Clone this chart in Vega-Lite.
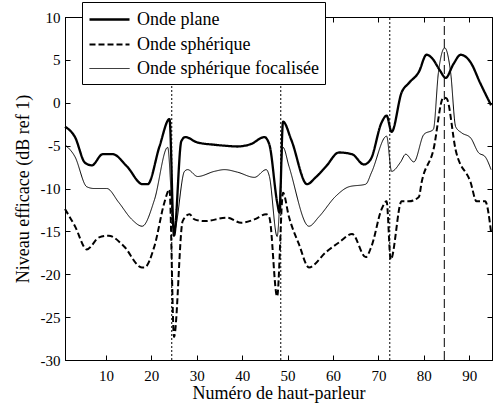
{
  "$schema": "https://vega.github.io/schema/vega-lite/v6.json",
  "width": 427,
  "height": 343,
  "autosize": "none",
  "padding": {"left": 65, "top": 17, "right": 1, "bottom": 46},
  "background": "white",
  "config": {
    "view": {"stroke": "black", "strokeWidth": 1},
    "font": "Liberation Serif",
    "axis": {
      "grid": false,
      "domainColor": "black",
      "tickColor": "black",
      "labelColor": "black",
      "titleColor": "black",
      "labelFont": "Liberation Serif",
      "titleFont": "Liberation Serif",
      "labelFontSize": 15,
      "titleFontSize": 18,
      "titleFontWeight": "normal",
      "tickSize": -5
    },
    "legend": {
      "labelFont": "Liberation Serif",
      "labelFontSize": 18,
      "labelColor": "black",
      "labelLimit": 0
    }
  },
  "datasets": {
    "curves": [
      {"n": 1, "v": -2.8, "s": "Onde plane"},
      {"n": 3.2, "v": -4.0, "s": "Onde plane"},
      {"n": 5.4, "v": -7.0, "s": "Onde plane"},
      {"n": 6.9, "v": -7.3, "s": "Onde plane"},
      {"n": 9.3, "v": -6.0, "s": "Onde plane"},
      {"n": 11.5, "v": -6.0, "s": "Onde plane"},
      {"n": 14.6, "v": -7.4, "s": "Onde plane"},
      {"n": 18.1, "v": -9.5, "s": "Onde plane"},
      {"n": 19.2, "v": -9.5, "s": "Onde plane"},
      {"n": 21.8, "v": -5.1, "s": "Onde plane"},
      {"n": 24, "v": -1.9, "s": "Onde plane"},
      {"n": 25, "v": -15.5, "s": "Onde plane"},
      {"n": 26.6, "v": -4.5, "s": "Onde plane"},
      {"n": 27.5, "v": -4.0, "s": "Onde plane"},
      {"n": 30, "v": -4.6, "s": "Onde plane"},
      {"n": 33.9, "v": -4.9, "s": "Onde plane"},
      {"n": 36, "v": -5.0, "s": "Onde plane"},
      {"n": 39, "v": -5.1, "s": "Onde plane"},
      {"n": 42, "v": -4.8, "s": "Onde plane"},
      {"n": 44.9, "v": -4.0, "s": "Onde plane"},
      {"n": 46, "v": -4.9, "s": "Onde plane"},
      {"n": 47.7, "v": -11.6, "s": "Onde plane"},
      {"n": 48.2, "v": -12.8, "s": "Onde plane"},
      {"n": 49, "v": -2.2, "s": "Onde plane"},
      {"n": 50.8, "v": -4.3, "s": "Onde plane"},
      {"n": 54.3, "v": -9.5, "s": "Onde plane"},
      {"n": 56, "v": -8.8, "s": "Onde plane"},
      {"n": 58.5, "v": -7.4, "s": "Onde plane"},
      {"n": 61.3, "v": -5.8, "s": "Onde plane"},
      {"n": 64.2, "v": -6.0, "s": "Onde plane"},
      {"n": 66.8, "v": -7.2, "s": "Onde plane"},
      {"n": 68.3, "v": -6.6, "s": "Onde plane"},
      {"n": 70.7, "v": -2.3, "s": "Onde plane"},
      {"n": 71.8, "v": -1.5, "s": "Onde plane"},
      {"n": 72.9, "v": -3.4, "s": "Onde plane"},
      {"n": 75.1, "v": 1.2, "s": "Onde plane"},
      {"n": 76.7, "v": 2.3, "s": "Onde plane"},
      {"n": 78.9, "v": 3.6, "s": "Onde plane"},
      {"n": 80.6, "v": 5.6, "s": "Onde plane"},
      {"n": 81.8, "v": 5.2, "s": "Onde plane"},
      {"n": 83.5, "v": 3.8, "s": "Onde plane"},
      {"n": 84.8, "v": 2.9, "s": "Onde plane"},
      {"n": 86.5, "v": 4.5, "s": "Onde plane"},
      {"n": 88.1, "v": 5.6, "s": "Onde plane"},
      {"n": 90.3, "v": 4.7, "s": "Onde plane"},
      {"n": 92.4, "v": 2.3, "s": "Onde plane"},
      {"n": 94.8, "v": -0.3, "s": "Onde plane"},

      {"n": 1, "v": -12.4, "s": "Onde sphérique"},
      {"n": 3.2, "v": -14.4, "s": "Onde sphérique"},
      {"n": 5.8, "v": -17.1, "s": "Onde sphérique"},
      {"n": 8.5, "v": -15.7, "s": "Onde sphérique"},
      {"n": 10.6, "v": -15.5, "s": "Onde sphérique"},
      {"n": 13.9, "v": -16.7, "s": "Onde sphérique"},
      {"n": 17.9, "v": -19.2, "s": "Onde sphérique"},
      {"n": 18.5, "v": -19.2, "s": "Onde sphérique"},
      {"n": 20.7, "v": -16.7, "s": "Onde sphérique"},
      {"n": 22.9, "v": -11.6, "s": "Onde sphérique"},
      {"n": 24, "v": -10.1, "s": "Onde sphérique"},
      {"n": 25, "v": -27.3, "s": "Onde sphérique"},
      {"n": 26.9, "v": -13.8, "s": "Onde sphérique"},
      {"n": 28.4, "v": -13.0, "s": "Onde sphérique"},
      {"n": 29.5, "v": -13.6, "s": "Onde sphérique"},
      {"n": 31.7, "v": -13.8, "s": "Onde sphérique"},
      {"n": 36.7, "v": -13.4, "s": "Onde sphérique"},
      {"n": 39.8, "v": -14.0, "s": "Onde sphérique"},
      {"n": 42.7, "v": -13.6, "s": "Onde sphérique"},
      {"n": 45.3, "v": -13.0, "s": "Onde sphérique"},
      {"n": 46, "v": -13.4, "s": "Onde sphérique"},
      {"n": 47.7, "v": -22.6, "s": "Onde sphérique"},
      {"n": 49, "v": -10.5, "s": "Onde sphérique"},
      {"n": 50.3, "v": -13.3, "s": "Onde sphérique"},
      {"n": 52.5, "v": -16.5, "s": "Onde sphérique"},
      {"n": 54.7, "v": -19.2, "s": "Onde sphérique"},
      {"n": 58.5, "v": -17.4, "s": "Onde sphérique"},
      {"n": 61.3, "v": -16.3, "s": "Onde sphérique"},
      {"n": 64.2, "v": -15.3, "s": "Onde sphérique"},
      {"n": 67.2, "v": -18.0, "s": "Onde sphérique"},
      {"n": 68.5, "v": -16.7, "s": "Onde sphérique"},
      {"n": 70.7, "v": -12.4, "s": "Onde sphérique"},
      {"n": 71.8, "v": -11.5, "s": "Onde sphérique"},
      {"n": 72.7, "v": -18.3, "s": "Onde sphérique"},
      {"n": 75.1, "v": -11.5, "s": "Onde sphérique"},
      {"n": 76.7, "v": -11.5, "s": "Onde sphérique"},
      {"n": 78.9, "v": -11.0, "s": "Onde sphérique"},
      {"n": 79.5, "v": -9.3, "s": "Onde sphérique"},
      {"n": 82.1, "v": -5.5, "s": "Onde sphérique"},
      {"n": 84.3, "v": 0.6, "s": "Onde sphérique"},
      {"n": 85, "v": 0.5, "s": "Onde sphérique"},
      {"n": 87, "v": -5.5, "s": "Onde sphérique"},
      {"n": 90.3, "v": -9.3, "s": "Onde sphérique"},
      {"n": 91.6, "v": -11.5, "s": "Onde sphérique"},
      {"n": 93.5, "v": -11.5, "s": "Onde sphérique"},
      {"n": 94.8, "v": -15.1, "s": "Onde sphérique"},

      {"n": 1, "v": -4.9, "s": "Onde sphérique focalisée"},
      {"n": 3.2, "v": -6.3, "s": "Onde sphérique focalisée"},
      {"n": 5.8, "v": -9.8, "s": "Onde sphérique focalisée"},
      {"n": 7.4, "v": -10.0, "s": "Onde sphérique focalisée"},
      {"n": 10.2, "v": -10.0, "s": "Onde sphérique focalisée"},
      {"n": 12.8, "v": -11.6, "s": "Onde sphérique focalisée"},
      {"n": 15.7, "v": -13.6, "s": "Onde sphérique focalisée"},
      {"n": 18, "v": -14.4, "s": "Onde sphérique focalisée"},
      {"n": 20.7, "v": -11.3, "s": "Onde sphérique focalisée"},
      {"n": 23.6, "v": -5.2, "s": "Onde sphérique focalisée"},
      {"n": 25, "v": -15.0, "s": "Onde sphérique focalisée"},
      {"n": 27.3, "v": -8.0, "s": "Onde sphérique focalisée"},
      {"n": 28, "v": -7.8, "s": "Onde sphérique focalisée"},
      {"n": 30.2, "v": -8.6, "s": "Onde sphérique focalisée"},
      {"n": 33.9, "v": -8.0, "s": "Onde sphérique focalisée"},
      {"n": 36.1, "v": -7.8, "s": "Onde sphérique focalisée"},
      {"n": 39, "v": -8.1, "s": "Onde sphérique focalisée"},
      {"n": 42.7, "v": -8.7, "s": "Onde sphérique focalisée"},
      {"n": 45.3, "v": -7.8, "s": "Onde sphérique focalisée"},
      {"n": 46, "v": -8.6, "s": "Onde sphérique focalisée"},
      {"n": 47.7, "v": -15.6, "s": "Onde sphérique focalisée"},
      {"n": 49, "v": -5.2, "s": "Onde sphérique focalisée"},
      {"n": 50.3, "v": -7.4, "s": "Onde sphérique focalisée"},
      {"n": 54.7, "v": -14.4, "s": "Onde sphérique focalisée"},
      {"n": 56.9, "v": -13.3, "s": "Onde sphérique focalisée"},
      {"n": 60.6, "v": -10.9, "s": "Onde sphérique focalisée"},
      {"n": 63.5, "v": -9.8, "s": "Onde sphérique focalisée"},
      {"n": 67.2, "v": -9.5, "s": "Onde sphérique focalisée"},
      {"n": 68.5, "v": -8.1, "s": "Onde sphérique focalisée"},
      {"n": 71.8, "v": -3.9, "s": "Onde sphérique focalisée"},
      {"n": 72.9, "v": -8.0, "s": "Onde sphérique focalisée"},
      {"n": 74.9, "v": -6.9, "s": "Onde sphérique focalisée"},
      {"n": 76, "v": -6.0, "s": "Onde sphérique focalisée"},
      {"n": 77.8, "v": -6.9, "s": "Onde sphérique focalisée"},
      {"n": 80, "v": -3.7, "s": "Onde sphérique focalisée"},
      {"n": 82.1, "v": -3.1, "s": "Onde sphérique focalisée"},
      {"n": 83.2, "v": 3.5, "s": "Onde sphérique focalisée"},
      {"n": 84.6, "v": 6.4, "s": "Onde sphérique focalisée"},
      {"n": 85.9, "v": 3.5, "s": "Onde sphérique focalisée"},
      {"n": 87, "v": -2.8, "s": "Onde sphérique focalisée"},
      {"n": 88.3, "v": -3.5, "s": "Onde sphérique focalisée"},
      {"n": 90.3, "v": -4.1, "s": "Onde sphérique focalisée"},
      {"n": 92, "v": -5.8, "s": "Onde sphérique focalisée"},
      {"n": 93.5, "v": -6.3, "s": "Onde sphérique focalisée"},
      {"n": 94.8, "v": -7.8, "s": "Onde sphérique focalisée"}
    ],
    "dotted": [{"n": 24.5}, {"n": 48.5}, {"n": 72.5}],
    "dashed": [{"n": 84.5}]
  },
  "resolve": {"axis": {"x": "independent", "y": "independent"}},
  "layer": [
    {
      "data": {"name": "dotted"},
      "mark": {"type": "rule", "color": "black", "strokeWidth": 1, "strokeDash": [2, 2]},
      "encoding": {
        "x": {"field": "n", "type": "quantitative", "scale": {"domain": [1, 95], "nice": false},
          "axis": {"orient": "top", "labels": false, "title": null, "values": [10, 20, 30, 40, 50, 60, 70, 80, 90]}},
        "y": {"datum": -30, "type": "quantitative", "scale": {"domain": [-30, 10], "nice": false},
          "axis": {"orient": "right", "labels": false, "title": null, "values": [-30, -25, -20, -15, -10, -5, 0, 5, 10]}},
        "y2": {"datum": 10}
      }
    },
    {
      "data": {"name": "dashed"},
      "mark": {"type": "rule", "color": "black", "strokeWidth": 1, "strokeDash": [9, 4]},
      "encoding": {
        "x": {"field": "n", "type": "quantitative", "axis": null},
        "y": {"datum": -30, "type": "quantitative", "axis": null},
        "y2": {"datum": 10}
      }
    },
    {
      "data": {"name": "curves"},
      "mark": {"type": "line", "color": "black", "interpolate": "monotone"},
      "encoding": {
        "x": {"field": "n", "type": "quantitative",
          "axis": {"orient": "bottom", "title": "Numéro de haut-parleur", "values": [10, 20, 30, 40, 50, 60, 70, 80, 90], "labelPadding": 13, "titlePadding": 1, "labelExpr": "'' + datum.value"}},
        "y": {"field": "v", "type": "quantitative",
          "axis": {"orient": "left", "title": "Niveau efficace (dB ref 1)", "values": [-30, -25, -20, -15, -10, -5, 0, 5, 10], "labelExpr": "'' + datum.value", "labelPadding": 10, "titlePadding": 8}},
        "strokeDash": {"field": "s", "type": "nominal",
          "scale": {"domain": ["Onde plane", "Onde sphérique", "Onde sphérique focalisée"], "range": [[1, 0], [6, 3], [1, 0]]},
          "legend": {"title": null, "orient": "none", "legendX": 17, "legendY": -15, "symbolType": "M-1,0H3", "symbolSize": 400, "symbolStrokeColor": "black", "symbolFillColor": "transparent", "labelOffset": 26, "fillColor": "white", "strokeColor": "black", "padding": 6, "rowPadding": 4.5}},
        "strokeWidth": {"field": "s", "type": "nominal",
          "scale": {"type": "ordinal", "domain": ["Onde plane", "Onde sphérique", "Onde sphérique focalisée"], "range": [2.3, 2, 1]},
          "legend": {"title": null, "orient": "none", "legendX": 17, "legendY": -15, "symbolType": "M-1,0H3", "symbolSize": 400, "symbolStrokeColor": "black", "symbolFillColor": "transparent", "labelOffset": 26, "fillColor": "white", "strokeColor": "black", "padding": 6, "rowPadding": 4.5}}
      }
    }
  ]
}
